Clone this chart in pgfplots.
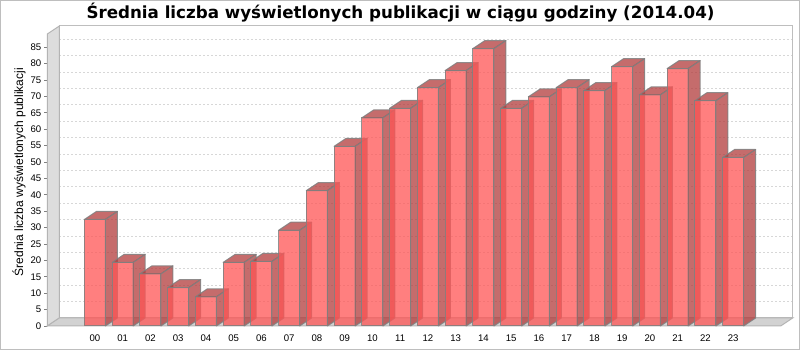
\documentclass[border=0pt]{standalone}
\usepackage{pgfplots}
\usepackage{pgfplotstable}
\pgfplotsset{compat=1.18}
\usepackage{fontspec}
\setmainfont{Liberation Sans}
\newfontfamily\titlefont{DejaVu Sans}

\definecolor{barfront}{RGB}{255,85,85}
\definecolor{barside}{RGB}{178,59,59}
\definecolor{baredge}{RGB}{128,128,128}
\definecolor{wallfill}{RGB}{221,221,221}
\definecolor{floorfill}{RGB}{210,210,210}
\definecolor{walledge}{RGB}{180,180,180}
\definecolor{planeedge}{RGB}{190,190,190}
\definecolor{gridc}{RGB}{215,215,215}

\pgfplotstableread{
h v
0 32.5
1 19.4
2 15.9
3 11.7
4 8.9
5 19.4
6 19.7
7 29.2
8 41.3
9 54.8
10 63.5
11 66.4
12 72.7
13 77.9
14 84.6
15 66.4
16 69.9
17 72.7
18 71.8
19 79.1
20 70.5
21 78.5
22 68.7
23 51.4
}\hourdata

\def\hw{0.378}
\def\dxu{0.4324}
\def\dyu{2.44}

\begin{document}
\begin{tikzpicture}[x=1pt,y=1pt]
\fill[white] (0,0) rectangle (800,350);
\draw[line width=1pt, color=planeedge] (0.5,0.5) rectangle (799.5,349.5);

% back plane with grid
\begin{axis}[
  at={(59.3pt,32pt)}, anchor=south west,
  width=733.4pt, height=292pt, scale only axis,
  xmin=-1.715, xmax=24.715, ymin=0, ymax=89.05,
  xtick=\empty, ytick={5,10,...,85}, yticklabels={},
  ymajorgrids,
  major grid style={color=gridc, dash pattern=on 2pt off 2pt, line width=0.8pt},
  axis line style={draw=planeedge, line width=1pt},
  tick style={draw=none},
]
\end{axis}

% front plane: wall, floor, bars, ticks
\begin{axis}[
  at={(47.3pt,24pt)}, anchor=south west,
  width=733.4pt, height=292pt, scale only axis,
  xmin=-1.715, xmax=24.715, ymin=0, ymax=89.05,
  clip=false,
  axis line style={draw=none},
  ytick={0,5,...,85},
  xtick={0,...,23},
  xticklabels={00,01,02,03,04,05,06,07,08,09,10,11,12,13,14,15,16,17,18,19,20,21,22,23},
  tick align=outside, ytick pos=left, xtick pos=bottom,
  xtick style={draw=none},
  ytick style={draw=gray, line width=0.8pt},
  major tick length=3pt,
  /pgf/number format/assume math mode=true,
  ticklabel style={font=\fontsize{9.6}{11}\selectfont, text=black},
  yticklabel style={xshift=0.5pt},
  xticklabel style={yshift=-2pt},
  frontface/.style={fill=barfront, fill opacity=0.75, draw=baredge, draw opacity=0.85, line width=1pt, line join=round},
  sideface/.style={fill=barside, fill opacity=0.75, draw=baredge, draw opacity=0.85, line width=1pt, line join=round},
]
\addplot[fill=wallfill, draw=walledge, line width=1pt] coordinates {(-1.715,0) (-1.715,89.05) (-1.2826,91.49) (-1.2826,2.44)} -- cycle;
\addplot[fill=floorfill, draw=walledge, line width=1pt] coordinates {(-1.715,0) (24.715,0) (25.1474,2.44) (-1.2826,2.44)} -- cycle;
\pgfplotsinvokeforeach{0,...,23}{
  \pgfplotstablegetelem{#1}{v}\of\hourdata
  \pgfmathsetmacro\barv{\pgfplotsretval}
  \pgfmathsetmacro\barvt{\barv+\dyu}
  \pgfmathsetmacro\xl{#1-\hw}
  \pgfmathsetmacro\xr{#1+\hw}
  \pgfmathsetmacro\xlb{#1-\hw+\dxu}
  \pgfmathsetmacro\xrb{#1+\hw+\dxu}
  \edef\doplots{%
    \noexpand\addplot[frontface] coordinates {(\xl,0) (\xr,0) (\xr,\barv) (\xl,\barv)} -- cycle;
    \noexpand\addplot[sideface] coordinates {(\xr,0) (\xrb,\dyu) (\xrb,\barvt) (\xr,\barv)} -- cycle;
    \noexpand\addplot[sideface] coordinates {(\xl,\barv) (\xr,\barv) (\xrb,\barvt) (\xlb,\barvt)} -- cycle;
  }\doplots
}
\end{axis}

\node[rotate=90, font=\fontsize{12}{14}\selectfont] at (19,178) {Średnia liczba wyświetlonych publikacji};
\node[anchor=base, font=\titlefont\bfseries\fontsize{16.7}{20}\selectfont] at (400.5,331.7) {Średnia liczba wyświetlonych publikacji w ciągu godziny (2014.04)};

\pgfresetboundingbox
\useasboundingbox (0,0) rectangle (800,350);
\end{tikzpicture}
\end{document}
